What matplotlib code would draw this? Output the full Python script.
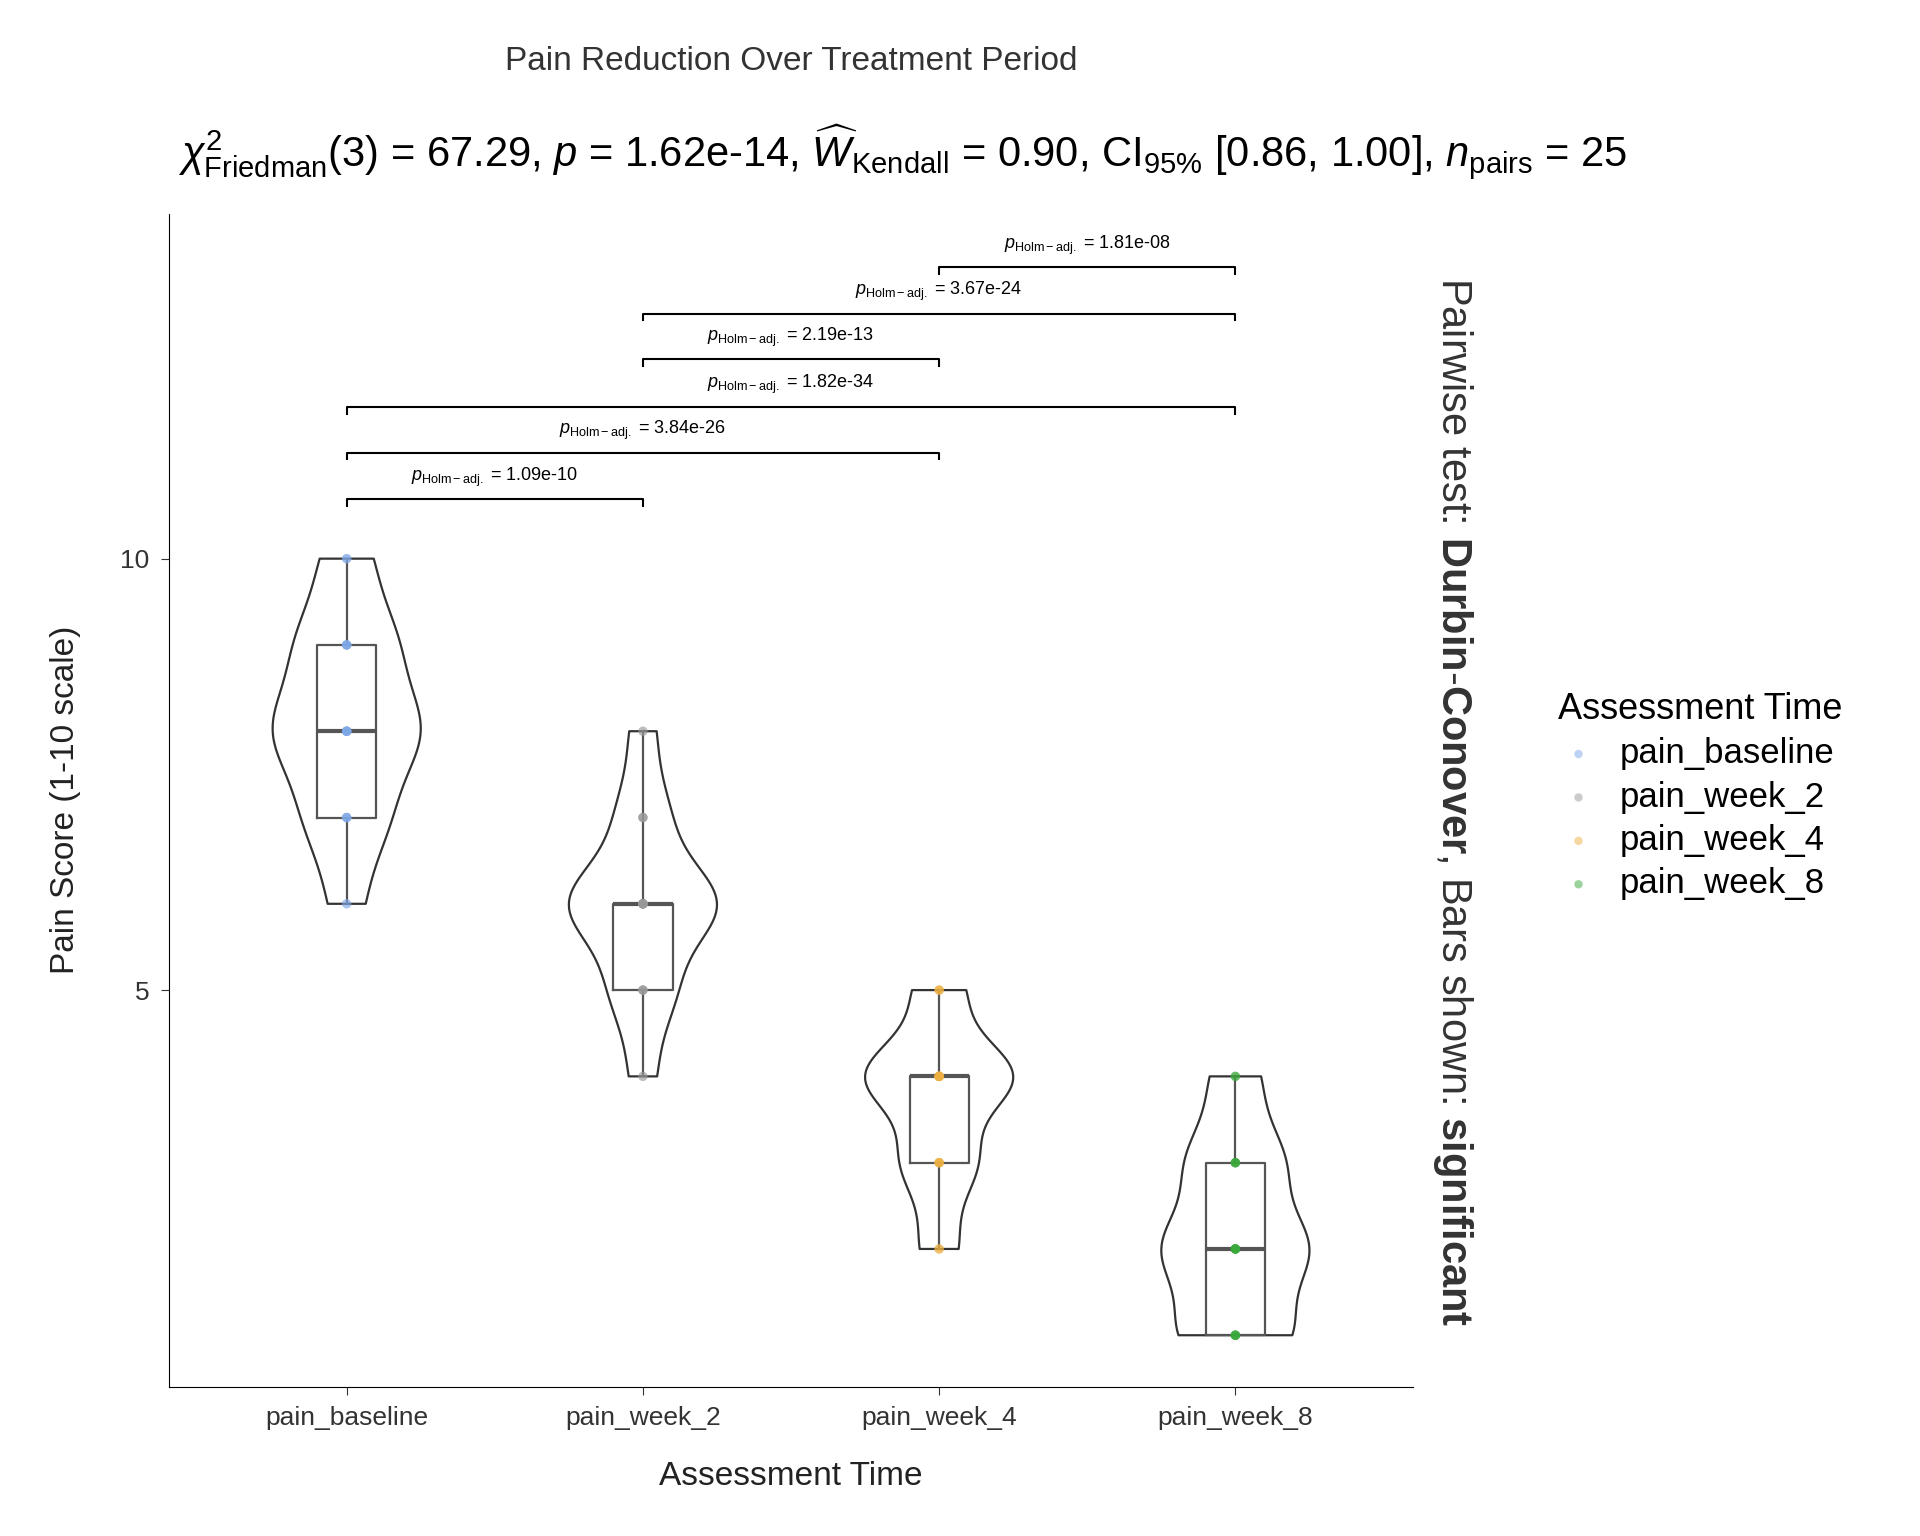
import numpy as np
import matplotlib
matplotlib.use("Agg")
import matplotlib.pyplot as plt

plt.rcParams['font.family'] = ['Liberation Sans', 'DejaVu Sans']
plt.rcParams['mathtext.fontset'] = 'custom'
plt.rcParams['mathtext.rm'] = 'Liberation Sans'
plt.rcParams['mathtext.it'] = 'Liberation Sans:italic'
plt.rcParams['mathtext.bf'] = 'Liberation Sans:bold'

categories = ["pain_baseline", "pain_week_2", "pain_week_4", "pain_week_8"]
levels = {
    "pain_baseline": ([6, 7, 8, 9, 10], [2, 5, 9, 6, 3]),
    "pain_week_2": ([4, 5, 6, 7, 8], [2, 5, 12, 4, 2]),
    "pain_week_4": ([2, 3, 4, 5], [3, 6, 12, 4]),
    "pain_week_8": ([1, 2, 3, 4], [7, 9, 6, 3]),
}
colors = ["#7fa8e8", "#999999", "#eeb040", "#3aa93a"]
pairs = [(0, 1), (0, 2), (0, 3), (1, 2), (1, 3), (2, 3)]
pair_p = ["1.09e-10", "3.84e-26", "1.82e-34", "2.19e-13", "3.67e-24", "1.81e-08"]
pair_y = [10.69, 11.23, 11.76, 12.31, 12.84, 13.38]

data = [np.repeat(*levels[c]) for c in categories]

fig = plt.figure(figsize=(19.2, 15.36), dpi=100)
ax = fig.add_axes([0.088, 0.097, 0.648, 0.764])
pos = np.arange(1, 5)

vp = ax.violinplot(data, positions=pos, widths=0.5, showextrema=False, bw_method=0.45)
for b in vp['bodies']:
    b.set_facecolor('none'); b.set_edgecolor('#333333'); b.set_linewidth(1.6); b.set_alpha(1)

ax.boxplot(data, positions=pos, widths=0.2, whis=[0, 100], showfliers=False,
           boxprops=dict(color='#555555', lw=1.6), whiskerprops=dict(color='#555555', lw=1.6),
           capprops=dict(linewidth=0), medianprops=dict(color='#555555', lw=3))

for i, d in enumerate(data):
    ax.scatter(np.full(len(d), pos[i]), d, s=45, color=colors[i], alpha=0.4, zorder=3,
               label=categories[i], edgecolors='none')

for (a, b), p, y in zip(pairs, pair_p, pair_y):
    ax.plot([pos[a], pos[a], pos[b], pos[b]], [y - 0.08, y, y, y - 0.08], color='black', lw=1.5, clip_on=False)
    ax.text((pos[a] + pos[b]) / 2, y + 0.12, r"$p_{\mathrm{Holm-adj.}}$ = " + p,
            ha='center', va='bottom', fontsize=13)

ax.set_ylim(0.4, 14.0)
ax.set_xlim(0.4, 4.6)
ax.set_yticks([5, 10])
ax.set_xticks(pos)
ax.set_xticklabels(categories)
ax.tick_params(labelsize=19, colors='#333333', length=6, pad=8)
for s in ['top', 'right']:
    ax.spines[s].set_visible(False)
ax.set_xlabel("Assessment Time", fontsize=24, color='#222222', labelpad=22)
ax.set_ylabel("Pain Score (1-10 scale)", fontsize=24, color='#222222', labelpad=28)

fig.text(0.412, 0.96, "Pain Reduction Over Treatment Period", ha='center', va='center', fontsize=24, color='#333333')
fig.text(0.47, 0.901, r"$\chi^2_{\mathrm{Friedman}}(3)$ = 67.29, $p$ = 1.62e-14, $\widehat{W}_{\mathrm{Kendall}}$ = 0.90, CI$_{95\%}$ [0.86, 1.00], $n_{\mathrm{pairs}}$ = 25",
         ha='center', va='center', fontsize=30)
fig.text(0.757, 0.478, r"Pairwise test: $\mathbf{Durbin}$-$\mathbf{Conover}$, Bars shown: $\mathbf{significant}$",
         rotation=-90, ha='center', va='center', fontsize=30, color='#333333')

leg = fig.legend(loc='upper left', bbox_to_anchor=(0.795, 0.57), frameon=False, title="Assessment Time",
                 fontsize=25, title_fontsize=26, markerscale=0.9, handletextpad=0.6, handlelength=1.2,
                 labelspacing=0.3, alignment='left')
for h in leg.legend_handles:
    h.set_alpha(0.5)

fig.savefig("out.png", dpi=100)
